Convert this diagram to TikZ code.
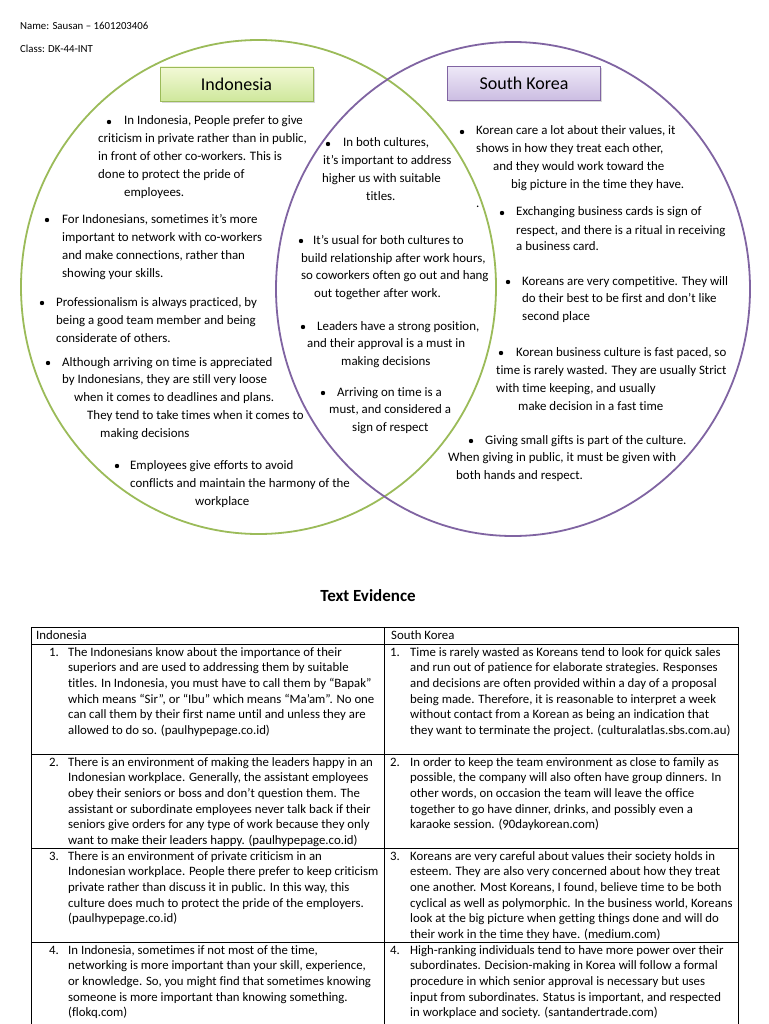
\documentclass[tikz,border=0pt]{standalone}
\usepackage{fontspec}
\setmainfont{Carlito}[Ligatures=NoCommon]
\usetikzlibrary{shadows}
\definecolor{vgreen}{HTML}{9BBB59}
\definecolor{vpurple}{HTML}{8064A2}
\definecolor{gtop}{HTML}{F2F9D6}
\definecolor{gbot}{HTML}{CFE89C}
\definecolor{ptop}{HTML}{EEE8F7}
\definecolor{pbot}{HTML}{CBBDE2}
\begin{document}
\begin{tikzpicture}[x=1pt,y=-1pt,
  vt/.style={anchor=west,inner sep=0pt,font=\fontsize{12.9}{15}\selectfont,text height=9pt,text depth=3pt},
  bul/.style={circle,fill=black,inner sep=0pt,minimum size=4.4pt},
  cell/.style={anchor=north west,inner sep=0pt,align=left,font=\fontsize{12.8}{15.6}\selectfont},
  smalltxt/.style={anchor=west,inner sep=0pt,font=\fontsize{10.8}{12}\selectfont},
  vennline/.style={line width=1.8pt},
  titlebox/.style={line width=0.8pt,minimum width=153pt,minimum height=34pt,font=\fontsize{18}{20}\selectfont,
    drop shadow={shadow xshift=1.5pt,shadow yshift=-2pt,fill=black!30}},
  rule/.style={line width=0.8pt,black}]
\fill[white] (0,0) rectangle (768,1024);
\useasboundingbox (0,0) rectangle (768,1024);

% header
\node[smalltxt] (name) at (20,26) {Name: Sausan – 1601203406};
\node[smalltxt] (class) at (20,49) {Class: DK-44-INT};

% venn
\draw[vennline,vgreen] (258.5,287) ellipse [x radius=237.5pt, y radius=247pt];
\draw[vennline,vpurple] (513,289) ellipse [x radius=237pt, y radius=247pt];

\node[titlebox,draw=vgreen,top color=gtop,bottom color=gbot] (indo) at (236.5,84) {Indonesia};
\node[titlebox,draw=vpurple,top color=ptop,bottom color=pbot] (korea) at (524,83.5) {South Korea};

\foreach \bx/\by [count=\i] in {109/122,47/220,42/303,48/363,117/466,
  328/144,301/241,303/327,323/393,
  462/132,502/213,508/282,501/353,471/441}
  \node[bul] (b\i) at (\bx,\by) {};

\foreach \px/\py/\tx [count=\i] in {
  124/122/{In Indonesia, People prefer to give},
  98/140/{criticism in private rather than in public,},
  98/158/{in front of other co-workers. This is},
  98/176/{done to protect the pride of},
  124/194/{employees.},
  62/220/{For Indonesians, sometimes it’s more},
  62/238/{important to network with co-workers},
  62/256/{and make connections, rather than},
  62/274/{showing your skills.},
  56/303/{Professionalism is always practiced, by},
  56/321/{being a good team member and being},
  56/339/{considerate of others.},
  62/363/{Although arriving on time is appreciated},
  62/380/{by Indonesians, they are still very loose},
  74/398/{when it comes to deadlines and plans.},
  87/416/{They tend to take times when it comes to},
  100/434/{making decisions},
  130/466/{Employees give efforts to avoid},
  130/484/{conflicts and maintain the harmony of the},
  195/502/{workplace},
  343/144/{In both cultures,},
  323/162/{it’s important to address},
  322/180/{higher us with suitable},
  366/198/{titles.},
  313/241/{It’s usual for both cultures to},
  301/259/{build relationship after work hours,},
  301/276/{so coworkers often go out and hang},
  314/294/{out together after work.},
  317/327/{Leaders have a strong position,},
  307/344/{and their approval is a must in},
  341/362/{making decisions},
  337/393/{Arriving on time is a},
  329/410/{must, and considered a},
  352/428/{sign of respect},
  476/132/{Korean care a lot about their values, it},
  476/150/{shows in how they treat each other,},
  493/168/{and they would work toward the},
  511/186/{big picture in the time they have.},
  476/205/{.},
  516/213/{Exchanging business cards is sign of},
  516/231/{respect, and there is a ritual in receiving},
  516/248/{a business card.},
  522/282/{Koreans are very competitive. They will},
  522/299/{do their best to be first and don’t like},
  522/317/{second place},
  516/353/{Korean business culture is fast paced, so},
  496/371/{time is rarely wasted. They are usually Strict},
  496/389/{with time keeping, and usually},
  518/407/{make decision in a fast time},
  485/441/{Giving small gifts is part of the culture.},
  448/458/{When giving in public, it must be given with},
  456/476/{both hands and respect.}}
  \node[vt] (v\i) at (\px,\py) {\tx};

% title
\node[font=\fontsize{17}{20}\selectfont\bfseries] (title) at (368,596) {Text Evidence};

% table rules
\draw[rule] (31,627) -- (738,627);
\draw[rule] (31,644) -- (738,644);
\draw[rule] (31,754) -- (738,754);
\draw[rule] (31,848) -- (738,848);
\draw[rule] (31,942) -- (738,942);
\draw[rule] (31,627) -- (31,1024);
\draw[rule] (384,627) -- (384,1024);
\draw[rule] (738,627) -- (738,1024);

\node[vt,font=\fontsize{12.8}{15.6}\selectfont] (hl) at (36,636) {Indonesia};
\node[vt,font=\fontsize{12.8}{15.6}\selectfont] (hr) at (391,636) {South Korea};

% left column
\node[cell] (ln1) at (49,646) {\rule{0pt}{10pt}1.};
\node[cell] (lt1) at (68,646) {\rule{0pt}{10pt}The Indonesians know about the importance of their\\
superiors and are used to addressing them by suitable\\
titles. In Indonesia, you must have to call them by “Bapak”\\
which means “Sir”, or “Ibu” which means “Ma’am”. No one\\
can call them by their first name until and unless they are\\
allowed to do so. (paulhypepage.co.id)};
\node[cell] (ln2) at (49,756) {\rule{0pt}{10pt}2.};
\node[cell] (lt2) at (68,756) {\rule{0pt}{10pt}There is an environment of making the leaders happy in an\\
Indonesian workplace. Generally, the assistant employees\\
obey their seniors or boss and don’t question them. The\\
assistant or subordinate employees never talk back if their\\
seniors give orders for any type of work because they only\\
want to make their leaders happy. (paulhypepage.co.id)};
\node[cell] (ln3) at (49,850) {\rule{0pt}{10pt}3.};
\node[cell] (lt3) at (68,850) {\rule{0pt}{10pt}There is an environment of private criticism in an\\
Indonesian workplace. People there prefer to keep criticism\\
private rather than discuss it in public. In this way, this\\
culture does much to protect the pride of the employers.\\
(paulhypepage.co.id)};
\node[cell] (ln4) at (49,944) {\rule{0pt}{10pt}4.};
\node[cell] (lt4) at (68,944) {\rule{0pt}{10pt}In Indonesia, sometimes if not most of the time,\\
networking is more important than your skill, experience,\\
or knowledge. So, you might find that sometimes knowing\\
someone is more important than knowing something.\\
(flokq.com)};

% right column
\node[cell] (rn1) at (390,646) {\rule{0pt}{10pt}1.};
\node[cell] (rt1) at (410,646) {\rule{0pt}{10pt}Time is rarely wasted as Koreans tend to look for quick sales\\
and run out of patience for elaborate strategies. Responses\\
and decisions are often provided within a day of a proposal\\
being made. Therefore, it is reasonable to interpret a week\\
without contact from a Korean as being an indication that\\
they want to terminate the project. (culturalatlas.sbs.com.au)};
\node[cell] (rn2) at (390,756) {\rule{0pt}{10pt}2.};
\node[cell] (rt2) at (410,756) {\rule{0pt}{10pt}In order to keep the team environment as close to family as\\
possible, the company will also often have group dinners. In\\
other words, on occasion the team will leave the office\\
together to go have dinner, drinks, and possibly even a\\
karaoke session. (90daykorean.com)};
\node[cell] (rn3) at (390,850) {\rule{0pt}{10pt}3.};
\node[cell] (rt3) at (410,850) {\rule{0pt}{10pt}Koreans are very careful about values their society holds in\\
esteem. They are also very concerned about how they treat\\
one another. Most Koreans, I found, believe time to be both\\
cyclical as well as polymorphic. In the business world, Koreans\\
look at the big picture when getting things done and will do\\
their work in the time they have. (medium.com)};
\node[cell] (rn4) at (390,944) {\rule{0pt}{10pt}4.};
\node[cell] (rt4) at (410,944) {\rule{0pt}{10pt}High-ranking individuals tend to have more power over their\\
subordinates. Decision-making in Korea will follow a formal\\
procedure in which senior approval is necessary but uses\\
input from subordinates. Status is important, and respected\\
in workplace and society. (santandertrade.com)};
\end{tikzpicture}
\end{document}
